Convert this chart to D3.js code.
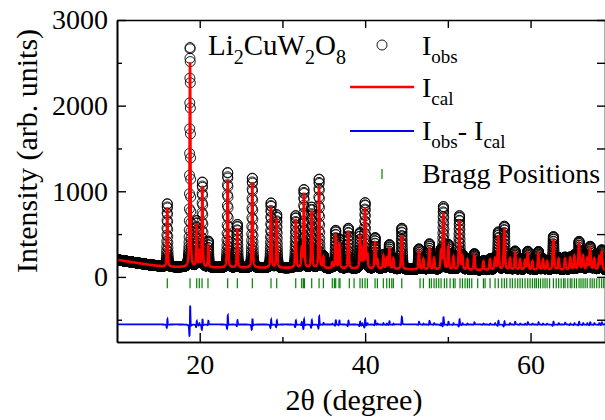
<!DOCTYPE html>
<html>
<head>
<meta charset="utf-8">
<script src="https://cdn.jsdelivr.net/npm/d3@7/dist/d3.min.js"></script>
<style>
body { margin: 0; background: #fff; }
text { font-family: "Liberation Serif", "Times New Roman", serif; fill: #000; }
</style>
</head>
<body>
<div id="chart"></div>
<script>
// Data
var peakPos  = [16.08, 18.83, 19.63, 19.95, 20.32, 21.04, 23.38, 24.55, 26.36, 28.62,
                29.31, 31.61, 32.33, 32.60, 33.54, 34.43, 34.95, 36.03, 36.44, 36.88,
                37.97, 39.38, 39.66, 39.99, 40.27, 41.20, 41.48, 42.20, 42.61, 42.93,
                43.41, 44.43, 46.50, 47.04, 47.77, 48.33, 49.18, 49.46, 50.06, 50.67,
                51.40, 51.76, 52.36, 53.20, 54.30, 55.10, 55.71, 56.10, 56.83, 57.52,
                58.13, 58.73, 59.33, 59.66, 60.22, 60.95, 61.50, 62.00, 62.76, 63.40,
                64.17, 64.80, 65.30, 65.86, 66.35, 66.85, 67.20, 67.70, 68.30, 68.60];
var peakCalc = [690, 2390, 500, 185, 945, 265, 1022, 460, 997, 712,
                580, 570, 200, 863, 668, 957, 122, 60, 395, 297,
                430, 380, 200, 705, 150, 315, 100, 150, 120, 245,
                120, 395, 210, 120, 260, 130, 200, 650, 260, 150,
                575, 150, 120, 165, 100, 120, 130, 400, 478, 130,
                190, 120, 110, 190, 100, 190, 120, 100, 360, 130,
                130, 140, 160, 300, 160, 130, 245, 130, 150, 205];
var peakObs  = [740, 2575, 535, 200, 995, 305, 1115, 505, 1050, 758,
                620, 610, 230, 910, 710, 1040, 140, 70, 440, 340,
                470, 410, 215, 760, 165, 360, 110, 165, 130, 280,
                130, 480, 240, 130, 300, 145, 215, 730, 290, 165,
                630, 165, 130, 190, 110, 130, 145, 440, 510, 145,
                220, 130, 120, 215, 110, 215, 130, 110, 390, 145,
                150, 150, 175, 330, 175, 145, 270, 145, 165, 230];

var bgAngle  = [10, 12, 14, 16, 20, 30, 40, 50, 60, 69];
var bgCounts = [200, 170, 140, 118, 110, 105, 95, 80, 78, 78];

var braggPos = [16.08, 18.83, 19.64, 19.95, 20.28, 21.00, 23.38, 24.55, 26.36, 28.62,
                29.31, 31.61, 32.33, 32.53, 32.66, 33.54, 34.43, 34.95, 36.03, 36.28,
                36.44, 36.84, 36.96, 38.09, 38.66, 39.38, 39.66, 39.99, 40.27, 41.20,
                41.48, 42.20, 42.61, 42.93, 43.22, 43.41, 44.43, 46.64, 47.04, 47.77,
                48.00, 48.33, 48.60, 48.90, 49.18, 49.58, 49.87, 50.27, 50.67, 50.87,
                51.47, 51.76, 52.08, 52.36, 52.60, 52.89, 53.61, 54.30, 54.50, 55.10,
                55.71, 56.10, 56.52, 56.83, 57.12, 57.52, 57.80, 58.13, 58.45, 58.73,
                59.01, 59.33, 59.66, 59.94, 60.22, 60.50, 60.70, 60.95, 61.20, 61.50,
                61.75, 62.00, 62.30, 62.76, 63.10, 63.40, 63.70, 64.00, 64.17, 64.50,
                64.80, 65.00, 65.30, 65.55, 65.86, 66.10, 66.35, 66.60, 66.85, 67.20,
                67.45, 67.70, 68.00, 68.30, 68.60, 68.85];

var xMajor = [20, 40, 60], xMinor = [30, 50];
var yMajor = [0, 1000, 2000, 3000], yMinor = [-500, 500, 1500, 2500];
var braggLevel = -75, diffOffset = -555, step = 0.01;

var chart_width = 605, chart_height = 420;
var plot_left = 117, plot_top = 20, plot_right = 605, plot_bottom = 342;

var x = d3.scaleLinear().domain([10, 69]).range([plot_left, plot_right]);
var y = d3.scaleLinear().domain([-760, 3000]).range([plot_bottom, plot_top]);
var bg = d3.scaleLinear().domain(bgAngle).range(bgCounts);

function pv(t, t0, h, hw) {
	var u = (t - t0) / hw;
	return h * (0.6 / (1 + u * u) + 0.4 * Math.exp(-0.6931 * u * u));
}
function halfWidth(t0) { return 0.055 + 0.0006 * (t0 - 10); }

// profile on the 2theta steps
var profile = d3.range(10, 69.0001, step).map(function(t) {
	var c = bg(t), o = bg(t);
	peakPos.forEach(function(p, i) {
		if (Math.abs(t - p) > 3) return;
		var hw = halfWidth(p);
		c += pv(t, p, peakCalc[i], hw);
		o += pv(t, p + 0.004, peakObs[i], hw * 0.92);
	});
	return {t: t, calc: c, obs: o, diff: o - c + diffOffset};
});

var svg = d3.select('#chart')
	.append('svg')
	.attr('width', chart_width)
	.attr('height', chart_height);

svg.append('clipPath').attr('id', 'plot')
	.append('rect')
	.attr('x', plot_left).attr('y', plot_top)
	.attr('width', plot_right - plot_left).attr('height', plot_bottom - plot_top);

var plot = svg.append('g').attr('clip-path', 'url(#plot)');

plot.selectAll('circle.obs')
	.data(profile)
	.enter()
	.append('circle')
	.attr('class', 'obs')
	.attr('cx', function(d) { return x(d.t); })
	.attr('cy', function(d) { return y(d.obs); })
	.attr('r', 5)
	.attr('fill', 'none')
	.attr('stroke', '#000')
	.attr('stroke-width', 0.9);

plot.append('path')
	.datum(profile)
	.attr('d', d3.line().x(function(d) { return x(d.t); }).y(function(d) { return y(d.calc); }))
	.attr('fill', 'none')
	.attr('stroke', '#ff0000')
	.attr('stroke-width', 2.6);

plot.append('path')
	.datum(profile)
	.attr('d', d3.line().x(function(d) { return x(d.t); }).y(function(d) { return y(d.diff); }))
	.attr('fill', 'none')
	.attr('stroke', '#0000ff')
	.attr('stroke-width', 1.8);

plot.selectAll('line.bragg')
	.data(braggPos)
	.enter()
	.append('line')
	.attr('class', 'bragg')
	.attr('x1', function(d) { return x(d); })
	.attr('x2', function(d) { return x(d); })
	.attr('y1', y(braggLevel) - 5)
	.attr('y2', y(braggLevel) + 5)
	.attr('stroke', '#008000')
	.attr('stroke-width', 1.2);

// axes, ticks inward
function addAxis(axis, tx, ty, vals, size, labels) {
	var g = svg.append('g')
		.attr('transform', 'translate(' + tx + ',' + ty + ')')
		.call(axis.tickValues(vals).tickSize(-size).tickSizeOuter(0)
			.tickFormat(labels ? d3.format('d') : ''));
	g.select('.domain').attr('stroke-width', 1.6);
	g.selectAll('.tick line').attr('stroke-width', 1.4);
	g.selectAll('text').style('font-size', '28px').attr('fill', '#000');
	return g;
}
addAxis(d3.axisBottom(x).tickPadding(12), 0, plot_bottom, xMajor, 9, true);
addAxis(d3.axisBottom(x), 0, plot_bottom, xMinor, 5, false);
addAxis(d3.axisTop(x), 0, plot_top, xMajor.concat(xMinor), 8, false);
addAxis(d3.axisLeft(y).tickPadding(9), plot_left, 0, yMajor, 9, true);
addAxis(d3.axisLeft(y), plot_left, 0, yMinor, 5, false);
addAxis(d3.axisRight(y), plot_right, 0, yMajor.concat(yMinor), 8, false);

svg.append('text')
	.attr('transform', 'translate(37,151) rotate(-90)')
	.attr('text-anchor', 'middle')
	.style('font-size', '30px')
	.text('Intensity (arb. units)');

svg.append('text')
	.attr('x', 354).attr('y', 410)
	.attr('text-anchor', 'middle')
	.style('font-size', '30px')
	.text('2θ (degree)');

// legend
var formula = svg.append('text').attr('x', 208).attr('y', 55).style('font-size', '29px');
[['Li', 0], ['2', 1], ['CuW', 0], ['2', 1], ['O', 0], ['8', 1]].forEach(function(p, i, a) {
	var prev = i > 0 ? a[i - 1][1] : 0;
	formula.append('tspan')
		.attr('dy', (p[1] - prev) * 9)
		.style('font-size', p[1] ? '20px' : '29px')
		.text(p[0]);
});

function legendLabel(yb, parts) {
	var t = svg.append('text').attr('x', 422).attr('y', yb).style('font-size', '28px');
	var prev = 0;
	parts.forEach(function(p) {
		t.append('tspan')
			.attr('dy', (p[1] - prev) * 8)
			.style('font-size', p[1] ? '19px' : '28px')
			.text(p[0]);
		prev = p[1];
	});
}

svg.append('circle').attr('cx', 382).attr('cy', 45).attr('r', 5)
	.attr('fill', 'none').attr('stroke', '#000').attr('stroke-width', 0.9);
legendLabel(55, [['I', 0], ['obs', 1]]);

svg.append('line').attr('x1', 350).attr('x2', 414).attr('y1', 87).attr('y2', 87)
	.attr('stroke', '#ff0000').attr('stroke-width', 2.6);
legendLabel(97, [['I', 0], ['cal', 1]]);

svg.append('line').attr('x1', 350).attr('x2', 414).attr('y1', 131).attr('y2', 131)
	.attr('stroke', '#0000ff').attr('stroke-width', 1.8);
legendLabel(140, [['I', 0], ['obs', 1], ['- I', 0], ['cal', 1]]);

svg.append('line').attr('x1', 382).attr('x2', 382).attr('y1', 169).attr('y2', 179)
	.attr('stroke', '#008000').attr('stroke-width', 1.2);
legendLabel(183, [['Bragg Positions', 0]]);
</script>
</body>
</html>
